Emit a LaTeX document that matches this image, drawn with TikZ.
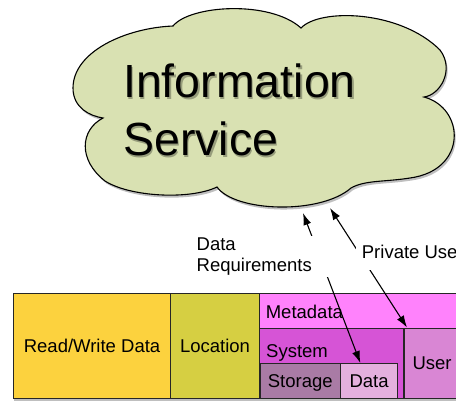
\documentclass[tikz,border=0pt]{standalone}
\usepackage{fontspec}
\setmainfont{Liberation Sans}
\usetikzlibrary{arrows.meta,calc}
\definecolor{cloudc}{RGB}{217,225,178}
\definecolor{rwc}{RGB}{252,210,62}
\definecolor{locc}{RGB}{214,207,66}
\definecolor{metac}{RGB}{255,130,252}
\definecolor{sysc}{RGB}{214,84,214}
\definecolor{storc}{RGB}{169,123,165}
\definecolor{datac}{RGB}{228,176,222}
\definecolor{userc}{RGB}{217,134,212}
\def\myCloudPath{(103,118) .. controls (90,116) and (73,108) .. (73,88)
  .. controls (73,52) and (125,28) .. (173,26)
  .. controls (190,5) and (270,0) .. (301,28)
  .. controls (320,8) and (400,10) .. (440,50)
  .. controls (455,70) and (440,95) .. (424,97)
  .. controls (465,108) and (468,170) .. (410,178)
  .. controls (385,182) and (365,180) .. (351,188)
  .. controls (320,215) and (235,212) .. (217,187)
  .. controls (190,200) and (130,197) .. (105,181)
  .. controls (78,160) and (80,130) .. (103,118) -- cycle}
\begin{document}
\begin{tikzpicture}[x=1bp,y=-1bp,
  bigtxt/.style={font=\fontsize{46.5bp}{56bp}\selectfont, inner sep=0, anchor=base west},
  lbl/.style={font=\fontsize{18.5bp}{21bp}\selectfont},
  box/.style={draw=black!85, line width=1.1bp, inner sep=0, anchor=north west,
    text height=13bp, text depth=0bp, font=\fontsize{18.5bp}{21bp}\selectfont},
  conn/.style={draw=black, line width=1.1bp, >={Latex[length=12bp,width=8bp]}, <->}]
\useasboundingbox (0,0) rectangle (456,400);
\clip (0,0) rectangle (456,400);
% cloud
\fill[black, opacity=0.25, shift={(1.5,2.5)}] \myCloudPath;
\filldraw[fill=cloudc, draw=black, line width=1.1bp] \myCloudPath;
\node[bigtxt, text=black, opacity=0.3] (info1s) at (124.5,99.5) {Information};
\node[bigtxt, text=black, opacity=0.3] (info2s) at (124.5,157.5) {Service};
\node[bigtxt] (info1) at (123,97.5) {Information};
\node[bigtxt] (info2) at (123,155) {Service};
\coordinate (c1) at (303,213);
\coordinate (c2) at (330,208);
% boxes
\fill[black, opacity=0.25] (14,398.5) rectangle (460,400.5);
\node[box, fill=rwc, minimum width=157bp, minimum height=105bp] (rw) at (13,293.3) {Read/Write Data};
\node[box, fill=locc, minimum width=89bp, minimum height=105bp] (loc) at (170,293.3) {Location};
\node[box, fill=metac, minimum width=200bp, minimum height=105bp] (meta) at (259,293.3) {};
\node[box, fill=sysc, minimum width=144bp, minimum height=70.8bp] (sys) at (259,327.5) {};
\node[box, fill=userc, minimum width=55bp, minimum height=70.8bp] (user) at (404,327.5) {User};
\node[box, fill=storc, minimum width=80.5bp, minimum height=35.3bp] (stor) at (259.5,363) {Storage};
\node[box, fill=datac, minimum width=57bp, minimum height=35.3bp] (datab) at (340,363) {Data};
\node[lbl, inner sep=0, anchor=base west] (metat) at (265.6,318.5) {Metadata};
\node[lbl, inner sep=0, anchor=base west] (syst) at (266,357.7) {System};
% connectors
\draw[conn] ($(datab.north west)!0.35!(datab.north east)$) -- (c1);
\draw[conn] ($(user.north west)+(3,0)$) -- (c2);
\node[lbl, anchor=north west, text width=131bp, align=left, inner sep=1.5bp, fill=white] (dreq) at (195,236) {Data\\Requirements};
\node[lbl, anchor=base west, fill=white, inner xsep=6bp, inner ysep=0, text height=14bp, text depth=12bp] (puser) at (355.7,258.3) {Private User};
\end{tikzpicture}
\end{document}
